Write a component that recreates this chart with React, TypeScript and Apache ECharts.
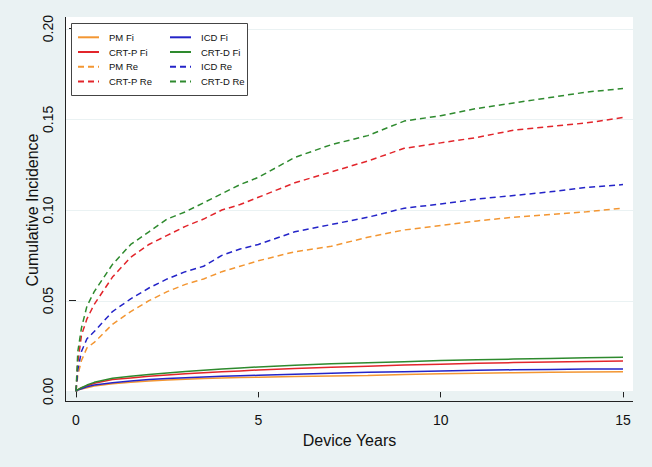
import React, { useEffect, useRef } from "react";
import * as echarts from "echarts";

const years = [0, 0.05, 0.15, 0.3, 0.5, 1, 1.5, 2, 2.5, 3, 3.5, 4, 4.5, 5, 6, 7, 8, 9, 10, 11, 12, 13, 14, 15];

const pmFi = [0, 0.0007, 0.0013, 0.002, 0.003, 0.0042, 0.005, 0.0057, 0.0063, 0.0067, 0.0071, 0.0074, 0.0076, 0.0078, 0.0082, 0.0085, 0.0088, 0.0093, 0.0097, 0.01, 0.0103, 0.0105, 0.0107, 0.0109];
const crtpFi = [0, 0.001, 0.002, 0.003, 0.0045, 0.0065, 0.0074, 0.0083, 0.009, 0.0097, 0.0103, 0.0108, 0.0113, 0.0118, 0.0126, 0.0133, 0.0139, 0.0145, 0.015, 0.0155, 0.0159, 0.0162, 0.0165, 0.0168];
const icdFi = [0, 0.0008, 0.0015, 0.0025, 0.0035, 0.0048, 0.0057, 0.0065, 0.0071, 0.0075, 0.0079, 0.0083, 0.0086, 0.0089, 0.0095, 0.01, 0.0105, 0.0109, 0.0113, 0.0116, 0.0119, 0.0121, 0.0123, 0.0124];
const crtdFi = [0, 0.001, 0.002, 0.0035, 0.005, 0.0072, 0.0083, 0.0093, 0.0102, 0.011, 0.0117, 0.0123, 0.0129, 0.0135, 0.0144, 0.0152, 0.0158, 0.0164, 0.017, 0.0174, 0.0178, 0.0182, 0.0185, 0.0188];
const pmRe = [0, 0.009, 0.017, 0.024, 0.027, 0.037, 0.044, 0.05, 0.055, 0.059, 0.062, 0.066, 0.069, 0.072, 0.077, 0.08, 0.085, 0.089, 0.0915, 0.094, 0.096, 0.0975, 0.099, 0.101];
const crtpRe = [0, 0.016, 0.031, 0.04, 0.048, 0.063, 0.074, 0.081, 0.086, 0.091, 0.095, 0.1, 0.103, 0.107, 0.115, 0.121, 0.127, 0.134, 0.137, 0.14, 0.144, 0.146, 0.148, 0.151];
const icdRe = [0, 0.012, 0.022, 0.029, 0.033, 0.044, 0.051, 0.057, 0.062, 0.066, 0.069, 0.075, 0.0785, 0.081, 0.088, 0.092, 0.096, 0.101, 0.1033, 0.106, 0.108, 0.11, 0.1125, 0.114];
const crtdRe = [0, 0.022, 0.035, 0.047, 0.055, 0.07, 0.081, 0.088, 0.095, 0.099, 0.104, 0.109, 0.114, 0.118, 0.129, 0.136, 0.141, 0.149, 0.152, 0.156, 0.159, 0.162, 0.165, 0.167];

const yTicks = [0, 0.05, 0.1, 0.15, 0.2];
const xTicks = [0, 5, 10, 15];

const ORANGE = "#F39632";
const RED = "#E2252B";
const BLUE = "#2424C8";
const GREEN = "#2E8A2E";

const seriesDefs = [
  { name: "PM Fi", color: ORANGE, dashed: false, values: pmFi },
  { name: "CRT-P Fi", color: RED, dashed: false, values: crtpFi },
  { name: "ICD Fi", color: BLUE, dashed: false, values: icdFi },
  { name: "CRT-D Fi", color: GREEN, dashed: false, values: crtdFi },
  { name: "PM Re", color: ORANGE, dashed: true, values: pmRe },
  { name: "CRT-P Re", color: RED, dashed: true, values: crtpRe },
  { name: "ICD Re", color: BLUE, dashed: true, values: icdRe },
  { name: "CRT-D Re", color: GREEN, dashed: true, values: crtdRe },
];

const legendLeft = ["PM Fi", "CRT-P Fi", "PM Re", "CRT-P Re"];
const legendRight = ["ICD Fi", "CRT-D Fi", "ICD Re", "CRT-D Re"];

const FONT = "'Liberation Sans', Arial, sans-serif";
const BG = "#eaf2f3";

export default function App() {
  const ref = useRef<HTMLDivElement>(null);
  useEffect(() => {
    if (!ref.current) return;
    const chart = echarts.init(ref.current, undefined, { renderer: "svg" });
    const legendCommon = {
      orient: "vertical",
      itemWidth: 21,
      itemHeight: 10,
      itemGap: 4.7,
      padding: 0,
      itemStyle: { opacity: 0 },
      textStyle: { fontFamily: FONT, fontSize: 9.5, color: "#111", padding: [0, 0, 0, 5] },
      selectedMode: false,
    };
    chart.setOption({
      animation: false,
      backgroundColor: BG,
      textStyle: { fontFamily: FONT },
      grid: { left: 76, right: 29, top: 28.6, bottom: 75.6, containLabel: false },
      legend: [
        { ...legendCommon, left: 77, top: 32.3, data: legendLeft },
        { ...legendCommon, left: 169, top: 32.3, data: legendRight },
      ],
      xAxis: {
        type: "value",
        min: xTicks[0],
        max: xTicks[xTicks.length - 1],
        interval: 5,
        offset: 9.6,
        name: "Device Years",
        nameLocation: "middle",
        nameGap: 31,
        nameMoveOverlap: false,
        nameTextStyle: { fontFamily: FONT, fontSize: 16, color: "#111" },
        axisLine: { show: false },
        axisTick: { show: true, length: 6, lineStyle: { color: "#222" } },
        axisLabel: { fontFamily: FONT, fontSize: 14, color: "#111", margin: 12 },
        splitLine: { show: false },
      },
      yAxis: {
        type: "value",
        min: yTicks[0],
        max: yTicks[yTicks.length - 1],
        interval: 0.05,
        offset: 11,
        name: "Cumulative Incidence",
        nameLocation: "middle",
        nameGap: 25,
        nameMoveOverlap: false,
        nameTextStyle: { fontFamily: FONT, fontSize: 16, color: "#111" },
        axisLine: { show: false },
        axisTick: { show: true, length: 7, lineStyle: { color: "#222" } },
        axisLabel: {
          fontFamily: FONT,
          fontSize: 14,
          color: "#111",
          rotate: 90,
          margin: 10,
          formatter: (v: number) => v.toFixed(2),
        },
        splitLine: { show: false },
      },
      series: seriesDefs.map((s) => ({
        name: s.name,
        type: "line",
        data: years.map((t, i) => [t, s.values[i]]),
        showSymbol: false,
        symbol: "none",
        color: s.color,
        lineStyle: { color: s.color, width: 1.5, type: s.dashed ? [6, 4] : "solid" },
        z: s.dashed ? 3 : 2,
      })),
    });

    const gridLines = yTicks.map((v) => {
      const y = Math.round(chart.convertToPixel({ yAxisIndex: 0 }, v) as number) + 0.5;
      return {
        type: "line",
        z: 1,
        silent: true,
        shape: { x1: 66, y1: y, x2: 633, y2: y },
        style: { stroke: BG, lineWidth: 1 },
      };
    });

    chart.setOption({
      graphic: [
        { type: "rect", z: 0, silent: true, shape: { x: 66, y: 17, width: 567, height: 375 }, style: { fill: "#ffffff" } },
        ...gridLines,
        { type: "line", z: 1, silent: true, shape: { x1: 65.5, y1: 17, x2: 65.5, y2: 401.5 }, style: { stroke: "#222", lineWidth: 1 } },
        { type: "line", z: 1, silent: true, shape: { x1: 65, y1: 401.5, x2: 633, y2: 401.5 }, style: { stroke: "#222", lineWidth: 1 } },
        { type: "rect", z: 3, silent: true, shape: { x: 71.5, y: 23.5, width: 176, height: 72 }, style: { fill: "#ffffff", stroke: "#444", lineWidth: 1 } },
      ],
    });
    return () => chart.dispose();
  }, []);
  return (
    <div
      ref={ref}
      style={{ position: "fixed", left: 0, top: 0, width: 652, height: 467 }}
    />
  );
}
